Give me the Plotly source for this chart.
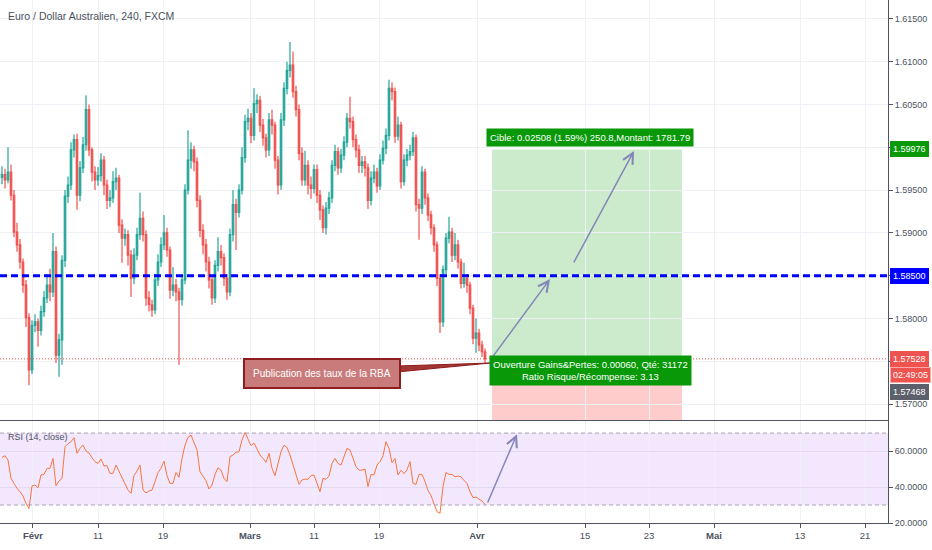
import plotly.graph_objects as go

title = "Euro / Dollar Australien, 240, FXCM"
rsi_title = "RSI (14, close)"

opens = [
    1.5965, 1.5968, 1.5962, 1.5971, 1.5944, 1.5901, 1.5886, 1.5866, 1.5839, 1.5801,
    1.5740, 1.5792, 1.5796, 1.5786, 1.5808, 1.5824, 1.5839, 1.5831, 1.5878, 1.5757,
    1.5775, 1.5868, 1.5943, 1.5956, 1.5997, 1.6009, 1.5944, 1.5976, 1.6003, 1.6044,
    1.5997, 1.5971, 1.5962, 1.5967, 1.5985, 1.5956, 1.5938, 1.5941, 1.5960, 1.5964,
    1.5909, 1.5894, 1.5898, 1.5874, 1.5847, 1.5874, 1.5898, 1.5917, 1.5898, 1.5824,
    1.5816, 1.5810, 1.5845, 1.5866, 1.5886, 1.5900, 1.5880, 1.5833, 1.5839, 1.5831,
    1.5822, 1.5845, 1.5950, 1.5985, 1.5997, 1.5983, 1.5938, 1.5903, 1.5886, 1.5866,
    1.5845, 1.5824, 1.5862, 1.5878, 1.5871, 1.5847, 1.5831, 1.5898, 1.5933, 1.5924,
    1.5950, 1.5988, 1.6030, 1.6034, 1.6014, 1.6051, 1.6055, 1.6026, 1.6011, 1.5997,
    1.6032, 1.6026, 1.5985, 1.5956, 1.6032, 1.6069, 1.6090, 1.6096, 1.6065, 1.6044,
    1.5993, 1.5962, 1.5979, 1.5956, 1.5952, 1.5974, 1.5944, 1.5927, 1.5906, 1.5929,
    1.5941, 1.5979, 1.5995, 1.5976, 1.5991, 1.6006, 1.6034, 1.6030, 1.6009, 1.5997,
    1.5979, 1.5983, 1.5976, 1.5938, 1.5964, 1.5971, 1.5955, 1.5985, 1.5999, 1.6014,
    1.6069, 1.6065, 1.6013, 1.6026, 1.5960, 1.5985, 1.5991, 1.5995, 1.6011, 1.5933,
    1.5929, 1.5971, 1.5941, 1.5921, 1.5906, 1.5886, 1.5847, 1.5796, 1.5857, 1.5894,
    1.5901, 1.5874, 1.5886, 1.5866, 1.5841, 1.5847, 1.5839, 1.5812, 1.5777, 1.5783,
    1.5769, 1.5761,
]

highs = [
    1.5978, 1.5975, 1.6000, 1.5980, 1.5950, 1.5912, 1.5893, 1.5870, 1.5845, 1.5806,
    1.5798, 1.5805, 1.5800, 1.5815, 1.5832, 1.5852, 1.5858, 1.5900, 1.5884, 1.5782,
    1.5874, 1.5950, 1.5966, 1.6006, 1.6015, 1.6016, 1.5984, 1.6012, 1.6061, 1.6050,
    1.6000, 1.5978, 1.5977, 1.5993, 1.5990, 1.5962, 1.5950, 1.5972, 1.5976, 1.5968,
    1.5916, 1.5905, 1.5903, 1.5880, 1.5882, 1.5906, 1.5947, 1.5925, 1.5903, 1.5832,
    1.5822, 1.5852, 1.5875, 1.5895, 1.5921, 1.5906, 1.5884, 1.5860, 1.5846, 1.5836,
    1.5852, 1.5957, 1.6020, 1.6006, 1.6002, 1.5988, 1.5944, 1.5910, 1.5893, 1.5872,
    1.5850, 1.5868, 1.5895, 1.5886, 1.5876, 1.5852, 1.5905, 1.5950, 1.5940, 1.5957,
    1.6000, 1.6038, 1.6045, 1.6040, 1.6069, 1.6062, 1.6060, 1.6033, 1.6016, 1.6040,
    1.6044, 1.6030, 1.5990, 1.6040, 1.6076, 1.6100, 1.6123, 1.6112, 1.6072, 1.6050,
    1.6000, 1.5996, 1.5985, 1.5966, 1.5980, 1.5980, 1.5950, 1.5932, 1.5936, 1.5948,
    1.5985, 1.6003, 1.6000, 1.5998, 1.6013, 1.6040, 1.6059, 1.6036, 1.6015, 1.6003,
    1.5990, 1.5990, 1.5981, 1.5972, 1.5980, 1.5976, 1.5992, 1.6008, 1.6022, 1.6079,
    1.6076, 1.6070, 1.6036, 1.6030, 1.5992, 1.5998, 1.6003, 1.6018, 1.6015, 1.5940,
    1.5978, 1.5975, 1.5946, 1.5926, 1.5910, 1.5890, 1.5852, 1.5862, 1.5900, 1.5919,
    1.5906, 1.5900, 1.5892, 1.5870, 1.5865, 1.5852, 1.5843, 1.5816, 1.5800, 1.5788,
    1.5774, 1.5765,
]

lows = [
    1.5957, 1.5952, 1.5958, 1.5938, 1.5895, 1.5878, 1.5858, 1.5830, 1.5790, 1.5722,
    1.5735, 1.5784, 1.5767, 1.5780, 1.5802, 1.5818, 1.5820, 1.5825, 1.5748, 1.5732,
    1.5746, 1.5860, 1.5935, 1.5950, 1.5988, 1.5927, 1.5937, 1.5970, 1.5996, 1.5990,
    1.5960, 1.5950, 1.5955, 1.5960, 1.5944, 1.5928, 1.5930, 1.5935, 1.5950, 1.5900,
    1.5865, 1.5885, 1.5862, 1.5825, 1.5840, 1.5868, 1.5892, 1.5890, 1.5815, 1.5808,
    1.5802, 1.5805, 1.5838, 1.5860, 1.5880, 1.5872, 1.5823, 1.5826, 1.5820, 1.5746,
    1.5815, 1.5840, 1.5945, 1.5975, 1.5972, 1.5930, 1.5895, 1.5875, 1.5855, 1.5835,
    1.5816, 1.5818, 1.5855, 1.5862, 1.5838, 1.5822, 1.5826, 1.5890, 1.5880, 1.5918,
    1.5945, 1.5982, 1.6020, 1.6005, 1.6008, 1.6040, 1.6018, 1.6002, 1.5988, 1.5990,
    1.6015, 1.5975, 1.5945, 1.5950, 1.6025, 1.6062, 1.6082, 1.6058, 1.6036, 1.5985,
    1.5955, 1.5955, 1.5945, 1.5940, 1.5946, 1.5935, 1.5915, 1.5900, 1.5898, 1.5922,
    1.5935, 1.5972, 1.5968, 1.5970, 1.5985, 1.6000, 1.6022, 1.6000, 1.5988, 1.5970,
    1.5970, 1.5966, 1.5928, 1.5932, 1.5958, 1.5947, 1.5950, 1.5980, 1.5992, 1.6008,
    1.6055, 1.6005, 1.6008, 1.5952, 1.5955, 1.5978, 1.5985, 1.5990, 1.5925, 1.5892,
    1.5922, 1.5933, 1.5914, 1.5898, 1.5878, 1.5838, 1.5783, 1.5790, 1.5850, 1.5888,
    1.5866, 1.5868, 1.5858, 1.5835, 1.5836, 1.5830, 1.5805, 1.5770, 1.5760, 1.5762,
    1.5755, 1.57468,
]

closes = [
    1.5968, 1.5962, 1.5971, 1.5944, 1.5901, 1.5886, 1.5866, 1.5839, 1.5801, 1.5740,
    1.5792, 1.5796, 1.5786, 1.5808, 1.5824, 1.5839, 1.5831, 1.5878, 1.5757, 1.5775,
    1.5868, 1.5943, 1.5956, 1.5997, 1.6009, 1.5944, 1.5976, 1.6003, 1.6044, 1.5997,
    1.5971, 1.5962, 1.5967, 1.5985, 1.5956, 1.5938, 1.5941, 1.5960, 1.5964, 1.5909,
    1.5894, 1.5898, 1.5874, 1.5847, 1.5874, 1.5898, 1.5917, 1.5898, 1.5824, 1.5816,
    1.5810, 1.5845, 1.5866, 1.5886, 1.5900, 1.5880, 1.5833, 1.5839, 1.5831, 1.5822,
    1.5845, 1.5950, 1.5985, 1.5997, 1.5983, 1.5938, 1.5903, 1.5886, 1.5866, 1.5845,
    1.5824, 1.5862, 1.5878, 1.5871, 1.5847, 1.5831, 1.5898, 1.5933, 1.5924, 1.5950,
    1.5988, 1.6030, 1.6034, 1.6014, 1.6051, 1.6055, 1.6026, 1.6011, 1.5997, 1.6032,
    1.6026, 1.5985, 1.5956, 1.6032, 1.6069, 1.6090, 1.6096, 1.6065, 1.6044, 1.5993,
    1.5962, 1.5979, 1.5956, 1.5952, 1.5974, 1.5944, 1.5927, 1.5906, 1.5929, 1.5941,
    1.5979, 1.5995, 1.5976, 1.5991, 1.6006, 1.6034, 1.6030, 1.6009, 1.5997, 1.5979,
    1.5983, 1.5976, 1.5938, 1.5964, 1.5971, 1.5955, 1.5985, 1.5999, 1.6014, 1.6069,
    1.6065, 1.6013, 1.6026, 1.5960, 1.5985, 1.5991, 1.5995, 1.6011, 1.5933, 1.5929,
    1.5971, 1.5941, 1.5921, 1.5906, 1.5886, 1.5847, 1.5796, 1.5857, 1.5894, 1.5901,
    1.5874, 1.5886, 1.5866, 1.5841, 1.5847, 1.5839, 1.5812, 1.5777, 1.5783, 1.5769,
    1.5761, 1.57528,
]

rsi = [
    56.5, 57.4, 55.0, 44.8, 42.0, 39.3, 37.4, 35.0, 30.9, 28.1,
    40.6, 41.1, 39.6, 46.7, 47.0, 50.4, 50.4, 55.9, 40.7, 43.3,
    44.8, 62.4, 64.1, 65.2, 67.4, 58.7, 61.5, 63.3, 60.0, 58.9,
    56.3, 54.1, 53.1, 55.6, 51.7, 51.9, 47.6, 47.6, 52.2, 48.9,
    45.4, 42.0, 38.3, 36.5, 46.3, 48.9, 52.2, 38.3, 36.7, 37.8,
    38.3, 43.0, 48.0, 50.4, 54.4, 46.3, 42.0, 42.0, 48.1, 45.4,
    55.9, 63.3, 67.6, 68.9, 64.4, 60.6, 48.5, 45.9, 43.5, 38.9,
    41.1, 47.0, 50.7, 49.4, 44.8, 43.0, 56.9, 57.8, 59.3, 59.6,
    66.1, 70.4, 66.7, 63.0, 64.4, 61.1, 57.8, 55.9, 53.7, 58.7,
    50.4, 46.3, 52.2, 59.6, 63.3, 62.0, 57.8, 51.9, 46.7, 41.5,
    43.9, 44.4, 44.3, 46.3, 46.7, 42.4, 37.4, 44.8, 44.3, 46.1,
    53.1, 55.9, 53.1, 52.2, 56.9, 61.5, 60.6, 56.3, 51.3, 49.4,
    49.4, 50.0, 40.2, 47.0, 46.7, 52.2, 54.1, 57.4, 65.2, 61.5,
    53.5, 55.9, 46.7, 49.3, 47.4, 49.6, 54.1, 42.0, 41.5, 47.0,
    47.0, 43.0, 38.1, 35.2, 30.9, 26.3, 25.4, 40.2, 48.1, 47.0,
    47.0, 45.7, 46.1, 45.7, 43.7, 42.0, 37.4, 34.1, 34.4, 33.3,
    32.2, 30.4,
]

bars = list(range(len(closes)))

# date labels sit at bar positions (4h bars, future part keeps going)
tick_pos = [10.33, 32, 53.67, 82.67, 104, 125.67, 158.33, 194.33, 215.67, 237.33, 266, 287.67]
tick_text = ["<b>Févr</b>", "11", "19", "<b>Mars</b>", "11", "19",
             "<b>Avr</b>", "15", "23", "<b>Mai</b>", "13", "21"]
price_ticks = [1.570, 1.575, 1.580, 1.585, 1.590, 1.595, 1.600, 1.605, 1.610, 1.615]
# the labels hidden under the price tags stay blank
price_text = ["1.57000", "", "1.58000", "", "1.59000", "1.59500", "", "1.60500",
              "1.61000", "1.61500"]
rsi_ticks = [20, 40, 60]

entry = 1.57468
target = 1.59976
stop = 1.56667
last_price = 1.57528
level = 1.585
pos_start, pos_end = 163.33, 226.67

font = "Liberation Sans, Arial, sans-serif"
txt = "#4c525e"
grid = "#eef1f6"

fig = go.Figure()
fig.add_trace(go.Candlestick(
    x=bars, open=opens, high=highs, low=lows, close=closes,
    increasing=dict(line=dict(color="#26a69a", width=1.2), fillcolor="#26a69a"),
    decreasing=dict(line=dict(color="#ef5350", width=1.2), fillcolor="#ef5350"),
    whiskerwidth=0, showlegend=False, hoverinfo="skip",
    xaxis="x", yaxis="y"))
fig.add_trace(go.Scatter(
    x=bars, y=rsi, mode="lines", line=dict(color="#f7763f", width=1),
    showlegend=False, hoverinfo="skip", xaxis="x2", yaxis="y2"))

shapes = [
    # position tool
    dict(type="rect", xref="x", yref="y", x0=pos_start, x1=pos_end, y0=entry, y1=target,
         fillcolor="rgba(0,150,0,0.2)", line=dict(width=0), layer="below"),
    dict(type="rect", xref="x", yref="y", x0=pos_start, x1=pos_end, y0=stop, y1=entry,
         fillcolor="rgba(255,0,0,0.2)", line=dict(width=0), layer="below"),
    # levels
    dict(type="line", xref="paper", yref="y", x0=0, x1=1, y0=level, y1=level,
         line=dict(color="#0000ff", width=3, dash="7px,4px")),
    dict(type="line", xref="paper", yref="y", x0=0, x1=1, y0=last_price, y1=last_price,
         line=dict(color="#ef5350", width=1, dash="1px,2px")),
    # rsi band
    dict(type="rect", xref="paper", yref="y2", x0=0, x1=1, y0=30, y1=70,
         fillcolor="#f3e7fd", line=dict(width=0), layer="below"),
    dict(type="line", xref="paper", yref="y2", x0=0, x1=1, y0=70, y1=70,
         line=dict(color="#a7a2b2", width=1, dash="4px,3px")),
    dict(type="line", xref="paper", yref="y2", x0=0, x1=1, y0=30, y1=30,
         line=dict(color="#a7a2b2", width=1, dash="4px,3px")),
    # callout tail
    dict(type="path", xref="x", yref="y",
         path="M 131.67,1.57444 L 162.67,1.57479 L 131.67,1.57374 Z",
         fillcolor="#a33535", line=dict(color="#8f1d1d", width=1)),
]

annotations = [
    dict(text=title, xref="paper", yref="paper", x=0.007, y=0.969, xanchor="left",
         yanchor="middle", showarrow=False, font=dict(family=font, size=10.5, color=txt)),
    dict(text=rsi_title, xref="paper", yref="paper", x=0.007, y=0.164, xanchor="left",
         yanchor="middle", showarrow=False, font=dict(family=font, size=9, color=txt)),
    # arrows
    dict(x=182.67, y=1.58461, ax=162.67, ay=1.5751, xref="x", yref="y", axref="x",
         ayref="y", text="", showarrow=True, arrowhead=5, arrowsize=1.4, arrowwidth=1.5,
         arrowcolor="#8486b8"),
    dict(x=210.67, y=1.59958, ax=190.33, ay=1.58637, xref="x", yref="y", axref="x",
         ayref="y", text="", showarrow=True, arrowhead=5, arrowsize=1.4, arrowwidth=1.5,
         arrowcolor="#8486b8"),
    dict(x=171.67, y=69.4, ax=161.67, ay=30.6, xref="x2", yref="y2", axref="x2",
         ayref="y2", text="", showarrow=True, arrowhead=5, arrowsize=1.4, arrowwidth=1.5,
         arrowcolor="#8486b8"),
    # labels
    dict(text="Publication des taux de la RBA", x=106.67, y=1.57357, xref="x", yref="y",
         showarrow=False, bgcolor="#c97b7b", bordercolor="#8f1d1d", borderwidth=2,
         borderpad=8, font=dict(family=font, size=10, color="white")),
    dict(text="Cible: 0.02508 (1.59%) 250.8,Montant: 1781.79", x=196, y=1.60115,
         xref="x", yref="y", showarrow=False, bgcolor="#089808", borderpad=3,
         font=dict(family=font, size=9.5, color="white")),
    dict(text="Ouverture Gains&Pertes: 0.00060, Qté: 31172<br>Ratio Risque/Récompense: 3.13",
         x=196, y=1.57392, xref="x", yref="y", showarrow=False, bgcolor="#089808",
         borderpad=3, font=dict(family=font, size=9.5, color="white")),
]

# price tags on the right axis
tags = [
    ("1.59976", target, "#089808", 0),
    ("1.58500", level, "#0000ff", 0),
    ("1.57528", last_price, "#ef5350", 0),
    ("02:49:05", last_price, "#ef5350", -16),
    ("1.57468", entry, "#5d606b", -28),
]
for text, y, color, shift in tags:
    annotations.append(dict(
        text=text, xref="paper", yref="y", x=1, y=y, yshift=shift, xanchor="left",
        xshift=2, showarrow=False, bgcolor=color, borderpad=2,
        bordercolor="#f7a9a8" if text == "02:49:05" else color, borderwidth=1,
        font=dict(family=font, size=9, color="white")))

axis_font = dict(family=font, size=9, color=txt)

fig.update_layout(
    width=932, height=550, autosize=False,
    margin=dict(l=0, r=44, t=0, b=27),
    paper_bgcolor="white", plot_bgcolor="white",
    showlegend=False,
    shapes=shapes, annotations=annotations,
    xaxis=dict(domain=[0, 1], range=[-0.667, 295.33], anchor="y", tickvals=tick_pos,
               showticklabels=False, ticks="", showgrid=True, gridcolor=grid,
               zeroline=False, showline=True, linecolor="#50535e", linewidth=1,
               rangeslider=dict(visible=False)),
    xaxis2=dict(domain=[0, 1], matches="x", anchor="y2", tickvals=tick_pos,
                ticktext=tick_text, ticks="outside", ticklen=4, tickcolor="#50535e",
                showgrid=True, gridcolor=grid, zeroline=False, showline=True,
                linecolor="#50535e", linewidth=1,
                tickfont=dict(family=font, size=9.5, color=txt)),
    yaxis=dict(domain=[0.1969, 1], range=[1.56813, 1.61722], side="right", anchor="x",
               tickvals=price_ticks, ticktext=price_text, ticks="outside", ticklen=4,
               tickcolor="#50535e", showgrid=True, gridcolor=grid, zeroline=False,
               showline=True, linecolor="#50535e", linewidth=1, tickfont=axis_font),
    yaxis2=dict(domain=[0, 0.195], range=[20, 76.7], side="right", anchor="x2",
                tickvals=rsi_ticks, tickformat=".4f", ticks="outside", ticklen=4,
                tickcolor="#50535e", showgrid=True, gridcolor="#e3d9f0", zeroline=False,
                showline=True, linecolor="#50535e", linewidth=1, tickfont=axis_font),
)

# the page body has a default 8px margin, drop it so the figure fills the window
fig.write_html("out.html", config={"displayModeBar": False},
               post_script="document.body.style.margin = '0px';")
